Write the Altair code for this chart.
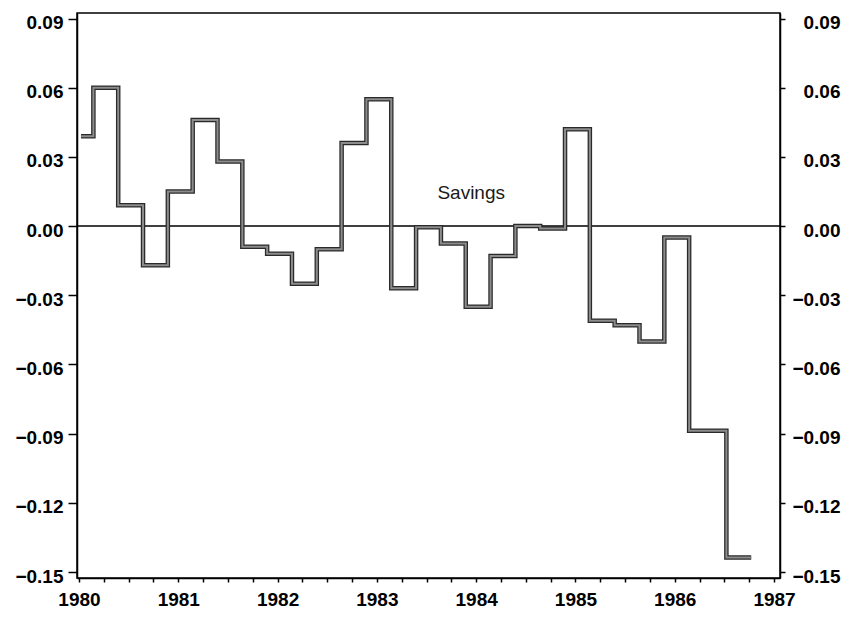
import altair as alt
import pandas as pd

# Quarterly observations (1986Q3 absent in the source graph)
quarters = ["1980Q1", "1980Q2", "1980Q3", "1980Q4",
            "1981Q1", "1981Q2", "1981Q3", "1981Q4",
            "1982Q1", "1982Q2", "1982Q3", "1982Q4",
            "1983Q1", "1983Q2", "1983Q3", "1983Q4",
            "1984Q1", "1984Q2", "1984Q3", "1984Q4",
            "1985Q1", "1985Q2", "1985Q3", "1985Q4",
            "1986Q1", "1986Q2", "1986Q4"]
savings = [0.039, 0.060, 0.009, -0.017,
           0.015, 0.046, 0.028, -0.009,
           -0.012, -0.025, -0.010, 0.036,
           0.055, -0.027, -0.0005, -0.0075,
           -0.035, -0.013, 0.000, -0.001,
           0.042, -0.041, -0.043, -0.050,
           -0.005, -0.0887, -0.1437]

y_ticks = [-0.15, -0.12, -0.09, -0.06, -0.03, 0.0, 0.03, 0.06, 0.09]
x_years = [1980, 1981, 1982, 1983, 1984, 1985, 1986, 1987]
label_text = ["Savings"]
label_x = [1983.95]
label_y = [0.0145]

t = [int(q[:4]) + (int(q[-1]) - 1) / 4 + 0.02 for q in quarters]
df = pd.DataFrame({"t": t, "v": savings})
lbl = pd.DataFrame({"x": label_x, "y": label_y, "text": label_text})
zero = pd.DataFrame({"y": [0.0]})

quarter_ticks = [x_years[0] + i / 4 for i in range((x_years[-1] - x_years[0]) * 4 + 1)]

FONT = "Liberation Sans, Arial, sans-serif"
FS = 19

xs = alt.Scale(domain=[1979.98, 1987.06], nice=False, zero=False)
ys = alt.Scale(domain=[-0.1526, 0.0924], nice=False, zero=False)

common = dict(title=None, grid=False, labelFont=FONT, labelFontSize=FS,
              labelFontWeight="bold", labelColor="black", labelOverlap=False,
              domainColor="black", domainWidth=1.5, tickColor="black", tickWidth=1.5)

xaxis = alt.Axis(values=quarter_ticks,
                 labelExpr="abs(datum.value - round(datum.value)) < 0.001 ? format(datum.value, 'd') : ''",
                 tickSize=4, labelPadding=23, labelBaseline="alphabetic", **common)
yleft = alt.Axis(values=y_ticks, format=".2f", orient="left",
                 tickSize=9, labelPadding=5, labelOffset=4, **common)
yright = alt.Axis(values=y_ticks, format=".2f", orient="right", labelAlign="right",
                  tickSize=5, labelPadding=55, labelOffset=4, **common)

outer = alt.Chart(df).mark_line(interpolate="step", color="#2a2a2a", strokeWidth=4.5).encode(
    x=alt.X("t:Q", scale=xs, axis=xaxis),
    y=alt.Y("v:Q", scale=ys, axis=yleft),
)
inner = alt.Chart(df).mark_line(interpolate="step", color="#8c8c8c", strokeWidth=2).encode(
    x=alt.X("t:Q", scale=xs, axis=xaxis),
    y=alt.Y("v:Q", scale=ys, axis=None),
)
rule = alt.Chart(zero).mark_rule(color="black", strokeWidth=1.5).encode(
    y=alt.Y("y:Q", scale=ys, axis=yright),
)
text = alt.Chart(lbl).mark_text(font=FONT, fontSize=19,
                                color="#1a1a1a", align="center", baseline="middle").encode(
    x=alt.X("x:Q", scale=xs, axis=xaxis),
    y=alt.Y("y:Q", scale=ys, axis=None),
    text="text:N",
)

chart = alt.layer(rule, outer, inner, text).resolve_axis(y="independent").properties(
    width=703, height=565,
    autosize=alt.AutoSizeParams(type="none"),
    padding={"left": 69, "top": 5, "right": 61, "bottom": 32},
    background="white",
).configure_view(stroke="black", strokeWidth=1.5)

chart.save("out.html", embed_options={"renderer": "svg", "actions": False})
